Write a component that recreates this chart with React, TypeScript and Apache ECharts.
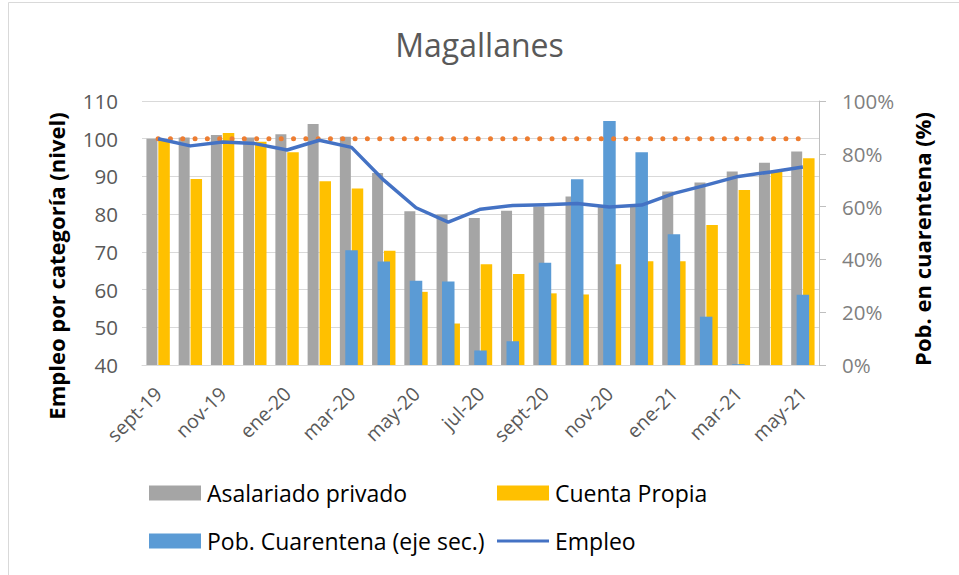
import React, { useEffect, useRef } from "react";
import * as echarts from "echarts";

const categories = [
  "sept-19", "oct-19", "nov-19", "dic-19", "ene-20", "feb-20", "mar-20", "abr-20", "may-20", "jun-20",
  "jul-20", "ago-20", "sept-20", "oct-20", "nov-20", "dic-20", "ene-21", "feb-21", "mar-21", "abr-21", "may-21",
];
const asalariado = [100, 100.3, 101, 100.3, 101.2, 103.9, 100.5, 90.9, 80.8, 79.9, 79.0, 80.9, 82, 84.7, 82, 82.3, 86.0, 88.4, 91.3, 93.6, 96.6];
const cuentaPropia = [99.6, 89.3, 101.5, 99.2, 96.4, 88.7, 86.8, 70.3, 59.4, 51.0, 66.7, 64.1, 59.0, 58.7, 66.7, 67.5, 67.5, 77.1, 86.4, 91.2, 94.8];
const cuarentena = [0, 0, 0, 0, 0, 0, 43.5, 39.2, 31.9, 31.6, 5.5, 9.0, 38.7, 70.4, 92.4, 80.6, 49.5, 18.3, 0.3, 0, 26.6];
const empleo = [100, 98.1, 99.1, 98.7, 97.0, 99.6, 97.7, 89.0, 81.7, 77.9, 81.3, 82.3, 82.5, 82.8, 81.9, 82.4, 85.5, 87.7, 90.0, 91.2, 92.5];
const base100 = [100, 100, 100, 100, 100, 100, 100, 100, 100, 100, 100, 100, 100, 100, 100, 100, 100, 100, 100, 100, 100];
const leftTicks = { min: 40, max: 110, interval: 10 };
const rightTicks = { min: 0, max: 100, interval: 20 };

const FONT = "'Open Sans', 'Noto Sans', sans-serif";
const LINE_ICON = "path://M0,0 L52,0 L52,0.001 Z M0,6 L52,6 L52,9 L0,9 Z M0,15 L52,15 L52,15.001 Z";

export default function App() {
  const ref = useRef<HTMLDivElement>(null);
  useEffect(() => {
    if (!ref.current) return;
    const chart = echarts.init(ref.current, null, { renderer: "svg" });
    const legendCommon = {
      top: 481,
      padding: 0,
      orient: "vertical",
      itemWidth: 52,
      itemHeight: 15,
      itemGap: 24,
      itemStyle: { borderWidth: 0 },
      textStyle: { fontSize: 23, color: "#000", lineHeight: 24, fontFamily: FONT, padding: [0, 0, 0, 1] },
    };
    chart.setOption({
      animation: false,
      backgroundColor: "#ffffff",
      textStyle: { fontFamily: FONT },
      title: {
        text: "Magallanes",
        left: "center",
        top: 23,
        textStyle: { fontSize: 32, fontWeight: "normal", color: "#595959", fontFamily: FONT },
      },
      graphic: [
        {
          type: "rect",
          shape: { x: 8.5, y: 2.5, width: 960, height: 590 },
          style: { fill: "none", stroke: "#D9D9D9", lineWidth: 1 },
          silent: true,
        },
        {
          type: "text",
          x: 56,
          y: 266,
          rotation: Math.PI / 2,
          style: {
            text: "Empleo por categoría (nivel)",
            fontSize: 22,
            fontWeight: "bold",
            fill: "#000",
            fontFamily: FONT,
            align: "center",
            verticalAlign: "middle",
          },
          silent: true,
        },
        {
          type: "text",
          x: 922,
          y: 239,
          rotation: Math.PI / 2,
          style: {
            text: "Pob. en cuarentena (%)",
            fontSize: 22,
            fontWeight: "bold",
            fill: "#000",
            fontFamily: FONT,
            align: "center",
            verticalAlign: "middle",
          },
          silent: true,
        },
      ],
      grid: { left: 142, right: 140, top: 101, bottom: 210, containLabel: false },
      legend: [
        {
          ...legendCommon,
          left: 149,
          icon: "rect",
          data: ["Asalariado privado", "Pob. Cuarentena (eje sec.)"],
        },
        {
          ...legendCommon,
          left: 497,
          data: [{ name: "Cuenta Propia", icon: "rect" }, { name: "Empleo", icon: LINE_ICON }],
        },
      ],
      xAxis: [
        {
          type: "category",
          data: categories,
          axisLine: { lineStyle: { color: "#D9D9D9", width: 1 } },
          axisTick: { show: false },
          axisLabel: { interval: 1, rotate: 45, color: "#595959", fontSize: 19.5, margin: 25, fontFamily: FONT },
        },
        {
          type: "category",
          data: categories,
          show: false,
          position: "bottom",
        },
      ],
      yAxis: [
        {
          type: "value",
          min: leftTicks.min,
          max: leftTicks.max,
          interval: leftTicks.interval,
          axisLine: { show: false },
          axisTick: { show: false },
          axisLabel: { color: "#595959", fontSize: 20.5, margin: 24, fontFamily: FONT },
          splitLine: { lineStyle: { color: "#D9D9D9", width: 1 } },
        },
        {
          type: "value",
          min: rightTicks.min,
          max: rightTicks.max,
          interval: rightTicks.interval,
          position: "right",
          axisLine: { show: true, lineStyle: { color: "#BFBFBF", width: 1 } },
          axisTick: { show: true, length: 7, lineStyle: { color: "#BFBFBF" } },
          axisLabel: { color: "#7F7F7F", fontSize: 20.5, margin: 23, formatter: "{value}%", fontFamily: FONT },
          splitLine: { show: false },
        },
      ],
      series: [
        {
          name: "Asalariado privado",
          type: "bar",
          data: asalariado,
          barWidth: 11,
          barGap: "8%",
          itemStyle: { color: "#A5A5A5" },
          z: 2,
        },
        {
          name: "Cuenta Propia",
          type: "bar",
          data: cuentaPropia,
          barWidth: 11.5,
          barGap: "8%",
          itemStyle: { color: "#FFC000" },
          z: 2,
        },
        {
          name: "Pob. Cuarentena (eje sec.)",
          type: "bar",
          xAxisIndex: 1,
          yAxisIndex: 1,
          data: cuarentena,
          barWidth: 12.5,
          itemStyle: { color: "#5B9BD5" },
          z: 3,
        },
        {
          name: "Base",
          type: "line",
          data: base100,
          symbol: "none",
          lineStyle: { color: "#ED7D31", width: 5, type: [0.01, 12.3], cap: "round" },
          z: 4,
        },
        {
          name: "Empleo",
          type: "line",
          data: empleo,
          symbol: "none",
          itemStyle: { color: "#4472C4" },
          lineStyle: { color: "#4472C4", width: 3.5, join: "round" },
          z: 5,
        },
      ],
    });
    return () => chart.dispose();
  }, []);
  return <div ref={ref} style={{ position: "absolute", left: 0, top: 0, width: 959, height: 575 }} />;
}
